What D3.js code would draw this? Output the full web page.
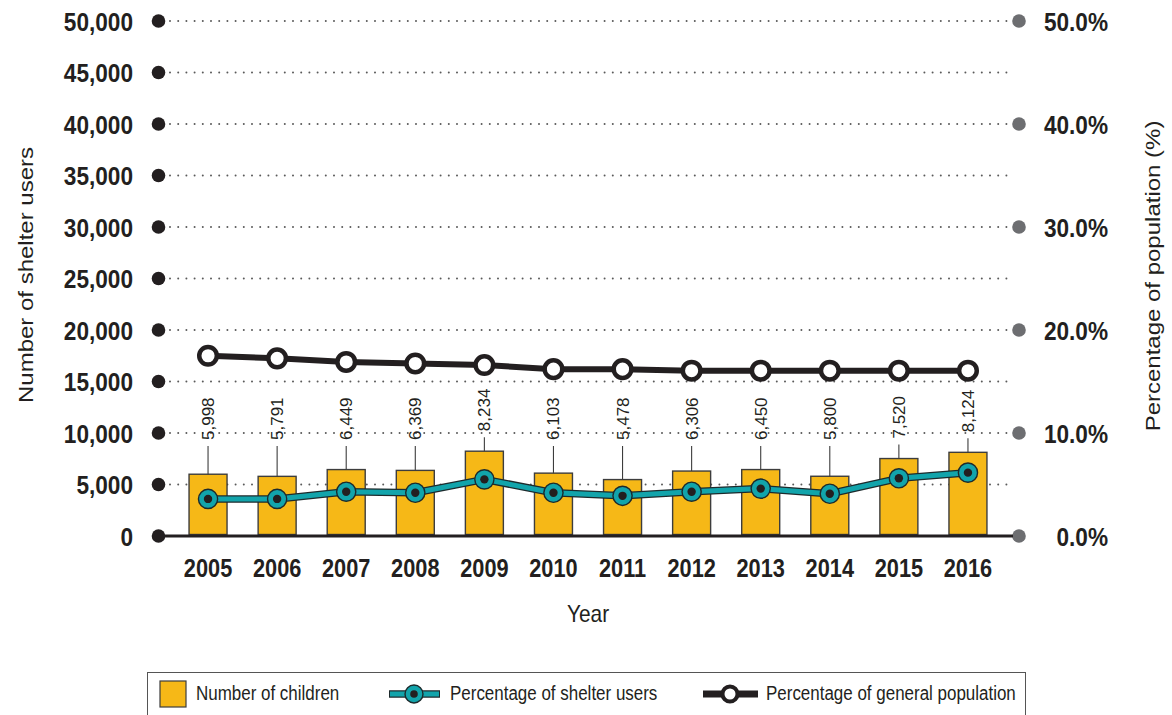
<!DOCTYPE html>
<html>
<head>
<meta charset="utf-8">
<script src="https://cdn.jsdelivr.net/npm/d3@7"></script>
<style>
  html, body { margin: 0; padding: 0; background: #fff; }
  svg { display: block; }
  text { font-family: "Liberation Sans", Arial, sans-serif; fill: #231f20; }
</style>
</head>
<body>
<svg id="chart" width="1172" height="715"></svg>
<script>
// ---- data ----
const years = ["2005","2006","2007","2008","2009","2010","2011","2012","2013","2014","2015","2016"];
const children = [5998, 5791, 6449, 6369, 8234, 6103, 5478, 6306, 6450, 5800, 7520, 8124];
const shelterPct = [3.6, 3.6, 4.3, 4.2, 5.5, 4.2, 3.9, 4.3, 4.6, 4.1, 5.6, 6.15];
const generalPct = [17.5, 17.25, 16.9, 16.75, 16.6, 16.2, 16.2, 16.05, 16.05, 16.05, 16.05, 16.05];
const leftTicks = [0, 5000, 10000, 15000, 20000, 25000, 30000, 35000, 40000, 45000, 50000];
const rightTicks = [0, 10, 20, 30, 40, 50];
const legendLabels = ["Number of children", "Percentage of shelter users", "Percentage of general population"];

// ---- setup ----
const SX = 0.87; // horizontal squeeze of the lettering
const svg = d3.select("#chart");
const ink = "#231f20", teal = "#12a4ab", yellow = "#f6b817", greyDot = "#6d6e71";

const x = d3.scaleBand().domain(years).range([173.5, 1002.5]).paddingInner(0.45).paddingOuter(0.225);
const y = d3.scaleLinear().domain([0, 50000]).range([536, 21]);
const yR = d3.scaleLinear().domain([0, 50]).range([536, 21]);
const cx = d => x(d) + x.bandwidth() / 2;
const fmtL = d3.format(",");
const fmtR = d => d3.format(".1f")(d) + "%";

function txt(g, t, px, py, opts) {
  const o = Object.assign({size: 16, weight: "normal", anchor: "start", rotate: 0, sx: SX}, opts || {});
  return g.append("text")
    .attr("transform", `translate(${px},${py})` + (o.sx !== 1 ? ` scale(${o.sx},1)` : "") + (o.rotate ? ` rotate(${o.rotate})` : ""))
    .attr("font-size", o.size).attr("font-weight", o.weight).attr("text-anchor", o.anchor)
    .text(t);
}

// ---- gridlines ----
const grid = svg.append("g");
grid.selectAll("line").data(leftTicks.filter(d => d > 0)).join("line")
  .attr("x1", 170).attr("x2", 1010)
  .attr("y1", d => y(d)).attr("y2", d => y(d))
  .attr("stroke", "#5a5a5a").attr("stroke-width", 2)
  .attr("stroke-linecap", "round").attr("stroke-dasharray", "0,8.2");

// ---- left axis ----
const la = svg.append("g");
la.selectAll("circle").data(leftTicks).join("circle")
  .attr("cx", 158.5).attr("cy", d => y(d)).attr("r", 6.8).attr("fill", ink);
leftTicks.forEach(d => txt(la, fmtL(d), 133, y(d) + 9.5, {size: 26, weight: "bold", anchor: "end"}));

// ---- right axis ----
const ra = svg.append("g");
ra.selectAll("circle").data(rightTicks).join("circle")
  .attr("cx", 1019).attr("cy", d => yR(d)).attr("r", 6.8).attr("fill", greyDot);
rightTicks.forEach(d => txt(ra, fmtR(d), 1108, yR(d) + 9.5, {size: 26, weight: "bold", anchor: "end"}));

// ---- bars ----
const bars = svg.append("g");
bars.selectAll("rect").data(children).join("rect")
  .attr("x", (d, i) => x(years[i])).attr("width", x.bandwidth())
  .attr("y", d => y(d)).attr("height", d => y(0) - y(d) - 1.5)
  .attr("fill", yellow).attr("stroke", "#3d3d3d").attr("stroke-width", 1.4);

// leader lines + value labels (labels sit at a common level, leaders fill the gap)
const labelBase = d => Math.min(440, y(d) - 20);
const lab = svg.append("g");
lab.selectAll("line").data(children).join("line")
  .attr("x1", (d, i) => cx(years[i])).attr("x2", (d, i) => cx(years[i]))
  .attr("y1", d => y(d)).attr("y2", d => labelBase(d) + 6)
  .attr("stroke", "#3d3d3d").attr("stroke-width", 1.1);
lab.selectAll("text").data(children).join("text")
  .attr("transform", (d, i) => `translate(${cx(years[i]) + 6},${labelBase(d)}) rotate(-90)`)
  .attr("font-size", 17).attr("text-anchor", "start")
  .text(d => fmtL(d));

// ---- baseline ----
svg.append("line").attr("x1", 160).attr("x2", 1013).attr("y1", y(0)).attr("y2", y(0))
  .attr("stroke", ink).attr("stroke-width", 3);

// ---- general population line ----
const lineGen = d3.line().x((d, i) => cx(years[i])).y(d => yR(d));
svg.append("path").datum(generalPct).attr("d", lineGen)
  .attr("fill", "none").attr("stroke", ink).attr("stroke-width", 6).attr("stroke-linejoin", "round");
svg.append("g").selectAll("circle").data(generalPct).join("circle")
  .attr("cx", (d, i) => cx(years[i])).attr("cy", d => yR(d)).attr("r", 8.8)
  .attr("fill", "#fff").attr("stroke", ink).attr("stroke-width", 4.5);

// ---- shelter users line ----
svg.append("path").datum(shelterPct).attr("d", lineGen)
  .attr("fill", "none").attr("stroke", "#1d2a2c").attr("stroke-width", 7.5).attr("stroke-linejoin", "round");
svg.append("path").datum(shelterPct).attr("d", lineGen)
  .attr("fill", "none").attr("stroke", teal).attr("stroke-width", 5).attr("stroke-linejoin", "round");
const sm = svg.append("g");
sm.selectAll("circle.o").data(shelterPct).join("circle").attr("class", "o")
  .attr("cx", (d, i) => cx(years[i])).attr("cy", d => yR(d)).attr("r", 9.6)
  .attr("fill", teal).attr("stroke", "#1d2a2c").attr("stroke-width", 1.4);
sm.selectAll("circle.i").data(shelterPct).join("circle").attr("class", "i")
  .attr("cx", (d, i) => cx(years[i])).attr("cy", d => yR(d)).attr("r", 4.2)
  .attr("fill", ink);

// ---- x labels ----
const xl = svg.append("g");
years.forEach(yr => txt(xl, yr, cx(yr), 577, {size: 25, weight: "bold", anchor: "middle"}));

// ---- axis titles ----
txt(svg, "Year", 588, 622, {size: 24, anchor: "middle"});
txt(svg, "Number of shelter users", 33, 275, {size: 24, anchor: "middle", rotate: -90});
txt(svg, "Percentage of population (%)", 1160, 276, {size: 24, anchor: "middle", rotate: -90});

// ---- legend ----
const lg = svg.append("g");
lg.append("rect").attr("x", 147.5).attr("y", 672.5).attr("width", 878).attr("height", 60)
  .attr("fill", "none").attr("stroke", "#555").attr("stroke-width", 1);
lg.append("rect").attr("x", 160).attr("y", 681).attr("width", 26).attr("height", 26)
  .attr("fill", yellow).attr("stroke", "#3d3d3d").attr("stroke-width", 1.2);
txt(lg, legendLabels[0], 196, 700, {size: 19.5});
// teal symbol
lg.append("line").attr("x1", 389).attr("x2", 440).attr("y1", 694).attr("y2", 694)
  .attr("stroke", "#1d2a2c").attr("stroke-width", 7.5);
lg.append("line").attr("x1", 390).attr("x2", 439).attr("y1", 694).attr("y2", 694)
  .attr("stroke", teal).attr("stroke-width", 5);
lg.append("circle").attr("cx", 414).attr("cy", 694).attr("r", 9).attr("fill", teal)
  .attr("stroke", "#1d2a2c").attr("stroke-width", 1.4);
lg.append("circle").attr("cx", 414).attr("cy", 694).attr("r", 3.8).attr("fill", ink);
txt(lg, legendLabels[1], 450, 700, {size: 19.5});
// black symbol
lg.append("line").attr("x1", 703).attr("x2", 758).attr("y1", 694).attr("y2", 694)
  .attr("stroke", ink).attr("stroke-width", 7);
lg.append("circle").attr("cx", 730).attr("cy", 694).attr("r", 7.5).attr("fill", "#fff")
  .attr("stroke", ink).attr("stroke-width", 4);
txt(lg, legendLabels[2], 766, 700, {size: 19.5});
</script>
</body>
</html>
